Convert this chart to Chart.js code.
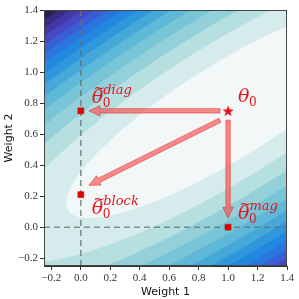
<!DOCTYPE html>
<html>
<head>
<meta charset="utf-8">
<script src="https://cdn.jsdelivr.net/npm/chart.js@4.4.1/dist/chart.umd.min.js"></script>
<style>
  html, body { margin: 0; padding: 0; background: #fff; }
  #wrap { width: 299px; height: 299px; }
</style>
</head>
<body>
<div id="wrap"><canvas id="chart" width="299" height="299"></canvas></div>
<script>
// axis ranges + ticks
const xRange = [-0.25, 1.4];
const yRange = [-0.25, 1.4];
const tickValues = [-0.2, 0.0, 0.2, 0.4, 0.6, 0.8, 1.0, 1.2, 1.4];

// quadratic loss surface: centre and hessian entries (a, b, c)
const lossCenter = [1.0, 0.75];
const lossHessian = [0.395, -0.54, 1.0];
const contourLevels = [0.125, 0.25, 0.375, 0.5, 0.625, 0.75, 0.875, 1.0,
  1.125, 1.25, 1.375, 1.5, 1.625, 1.75, 1.875];
const contourColors = ['#f2f8f8', '#d6ebeb', '#b6dfe0', '#93d0d9', '#78c5d7',
  '#5eb8d7', '#45a8d9', '#2f97dc', '#2288df', '#2a76de', '#3a5ed6', '#4848c4',
  '#4438a6', '#382c80', '#262050', '#121220'];

// points
const originalPoint = [{ x: 1.0, y: 0.75 }];
const projectedPoints = [{ x: 0.0, y: 0.75 }, { x: 0.0, y: 0.21 }, { x: 1.0, y: 0.0 }];
const refLineV = [{ x: 0, y: -0.25 }, { x: 0, y: 1.4 }];
const refLineH = [{ x: -0.25, y: 0 }, { x: 1.4, y: 0 }];

// arrows theta0 -> projections
const arrowFrom = [[0.945, 0.75], [0.945, 0.69], [1.0, 0.69]];
const arrowTo = [[0.055, 0.75], [0.055, 0.27], [1.0, 0.058]];

// labels
const labelPos = [[1.068, 0.81], [0.075, 0.80], [0.075, 0.085], [1.068, 0.05]];
const labelSup = ['', 'diag', 'block', 'mag'];
const labelTilde = [false, true, true, true];

const RED = '#e8141c';

function starCanvas(size) {
  const c = document.createElement('canvas');
  c.width = size; c.height = size;
  const g = c.getContext('2d');
  const cx = size / 2, cy = size / 2 + 0.5, R = size / 2, r = R * 0.42;
  g.beginPath();
  for (let i = 0; i < 10; i++) {
    const ang = -Math.PI / 2 + i * Math.PI / 5;
    const rad = i % 2 ? r : R;
    const px = cx + rad * Math.cos(ang), py = cy + rad * Math.sin(ang);
    i ? g.lineTo(px, py) : g.moveTo(px, py);
  }
  g.closePath();
  g.fillStyle = RED;
  g.fill();
  return c;
}

function ellipsePath(ctx, xs, ys, k) {
  const [a, b, c] = lossHessian;
  ctx.beginPath();
  for (let i = 0; i <= 360; i++) {
    const t = i / 360 * 2 * Math.PI;
    const ux = Math.cos(t), uy = Math.sin(t);
    const q = a * ux * ux + 2 * b * ux * uy + c * uy * uy;
    const r = Math.sqrt(k / q);
    const px = xs.getPixelForValue(lossCenter[0] + r * ux);
    const py = ys.getPixelForValue(lossCenter[1] + r * uy);
    i ? ctx.lineTo(px, py) : ctx.moveTo(px, py);
  }
  ctx.closePath();
}

function drawArrow(ctx, x0, y0, x1, y1) {
  const dx = x1 - x0, dy = y1 - y0;
  const len = Math.hypot(dx, dy);
  const ux = dx / len, uy = dy / len, nx = -uy, ny = ux;
  const sw = 2.2, hw = 5.2, hl = 11;
  const bx = x1 - ux * hl, by = y1 - uy * hl;
  const pts = [
    [x0 + nx * sw, y0 + ny * sw], [bx + nx * sw, by + ny * sw], [bx + nx * hw, by + ny * hw],
    [x1, y1], [bx - nx * hw, by - ny * hw], [bx - nx * sw, by - ny * sw], [x0 - nx * sw, y0 - ny * sw]
  ];
  ctx.beginPath();
  pts.forEach((p, i) => i ? ctx.lineTo(p[0], p[1]) : ctx.moveTo(p[0], p[1]));
  ctx.closePath();
  ctx.fillStyle = 'rgba(250, 70, 70, 0.62)';
  ctx.fill();
  ctx.strokeStyle = 'rgba(230, 30, 30, 0.5)';
  ctx.lineWidth = 1;
  ctx.stroke();
}

function drawThetaLabel(ctx, x, y, tilde, sup) {
  ctx.fillStyle = RED;
  ctx.textBaseline = 'alphabetic';
  ctx.textAlign = 'left';
  ctx.font = 'italic 19px "DejaVu Serif"';
  ctx.fillText('θ', x, y);
  const w = ctx.measureText('θ').width;
  if (tilde) {
    ctx.font = '14px "DejaVu Serif"';
    ctx.fillText('~', x + 1.5, y - 10);
  }
  ctx.font = '12px "DejaVu Serif"';
  ctx.fillText('0', x + w - 0.5, y + 4);
  if (sup) {
    ctx.font = 'italic 13px "DejaVu Serif"';
    ctx.fillText(sup, x + w, y - 9);
  }
}

const surfacePlugin = {
  id: 'surface',
  beforeDatasetsDraw(chart) {
    const { ctx, chartArea: ca, scales } = chart;
    ctx.save();
    ctx.beginPath();
    ctx.rect(ca.left, ca.top, ca.right - ca.left, ca.bottom - ca.top);
    ctx.clip();
    ctx.fillStyle = contourColors[contourColors.length - 1];
    ctx.fillRect(ca.left, ca.top, ca.right - ca.left, ca.bottom - ca.top);
    for (let i = contourLevels.length - 1; i >= 0; i--) {
      ellipsePath(ctx, scales.x, scales.y, contourLevels[i]);
      ctx.fillStyle = contourColors[i];
      ctx.fill();
    }
    ctx.restore();
  },
  afterDatasetsDraw(chart) {
    const { ctx, chartArea: ca, scales } = chart;
    ctx.save();
    labelPos.forEach((p, i) => {
      drawThetaLabel(ctx, scales.x.getPixelForValue(p[0]), scales.y.getPixelForValue(p[1]),
        labelTilde[i], labelSup[i]);
    });
    ctx.strokeStyle = '#444';
    ctx.lineWidth = 1;
    ctx.strokeRect(ca.left + 0.5, ca.top + 0.5, ca.right - ca.left - 1, ca.bottom - ca.top - 1);
    ctx.restore();
  }
};

// arrows are drawn right after the dashed lines, under the markers
const arrowPlugin = {
  id: 'arrows',
  afterDatasetDraw(chart, args) {
    if (args.index !== 1) return;
    const { ctx, scales } = chart;
    ctx.save();
    arrowFrom.forEach((f, i) => {
      drawArrow(ctx,
        scales.x.getPixelForValue(f[0]), scales.y.getPixelForValue(f[1]),
        scales.x.getPixelForValue(arrowTo[i][0]), scales.y.getPixelForValue(arrowTo[i][1]));
    });
    ctx.restore();
  }
};

const fmt = v => (v < 0 ? '\u2212' : '') + Math.abs(v).toFixed(1);
const tickFont = { family: '"Liberation Serif", serif', size: 11 };
const titleFont = { family: '"DejaVu Sans", sans-serif', size: 11 };

new Chart(document.getElementById('chart'), {
  type: 'scatter',
  data: {
    datasets: [
      { type: 'line', data: refLineV, borderColor: 'rgba(100,112,112,0.75)', borderWidth: 1.6,
        borderDash: [6, 4], pointRadius: 0, order: 5 },
      { type: 'line', data: refLineH, borderColor: 'rgba(100,112,112,0.75)', borderWidth: 1.6,
        borderDash: [6, 4], pointRadius: 0, order: 4 },
      { data: projectedPoints, pointStyle: 'rect', pointRadius: 4.2, backgroundColor: '#e00000',
        borderColor: '#c00000', borderWidth: 0.5, order: 2 },
      { data: originalPoint, pointStyle: starCanvas(12), pointRadius: 6, order: 1 }
    ]
  },
  options: {
    responsive: false,
    animation: false,
    events: [],
    layout: { padding: { top: 10, right: 12, left: 3, bottom: 0 } },
    plugins: { legend: { display: false }, tooltip: { enabled: false } },
    scales: {
      x: {
        type: 'linear', min: xRange[0], max: xRange[1],
        afterBuildTicks: ax => { ax.ticks = tickValues.map(v => ({ value: v })); },
        afterFit: ax => { ax.height = 33; },
        ticks: { font: tickFont, color: '#333', padding: 2, maxRotation: 0, callback: fmt },
        grid: { drawOnChartArea: false, drawTicks: true, tickLength: 4, color: '#333' },
        border: { display: true, color: '#333' },
        title: { display: true, text: 'Weight 1', font: titleFont, color: '#111', padding: { top: 0, bottom: 0 } }
      },
      y: {
        type: 'linear', min: yRange[0], max: yRange[1],
        afterBuildTicks: ax => { ax.ticks = tickValues.map(v => ({ value: v })); },
        afterFit: ax => { ax.width = 41; },
        ticks: { font: tickFont, color: '#333', padding: 2, callback: fmt },
        grid: { drawOnChartArea: false, drawTicks: true, tickLength: 4, color: '#333' },
        border: { display: true, color: '#333' },
        title: { display: true, text: 'Weight 2', font: titleFont, color: '#111', padding: { top: 0, bottom: 2 } }
      }
    }
  },
  plugins: [surfacePlugin, arrowPlugin]
});
</script>
</body>
</html>
